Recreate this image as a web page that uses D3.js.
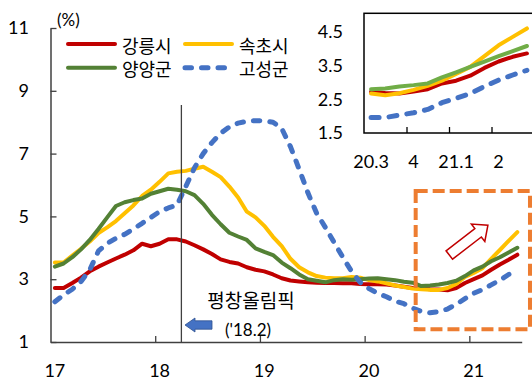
<!DOCTYPE html>
<html>
<head>
<meta charset="utf-8">
<script src="https://cdn.jsdelivr.net/npm/d3@7"></script>
<style>
  html, body { margin: 0; padding: 0; background: #fff; }
  svg { display: block; font-family: Lato, "Noto Sans CJK KR", sans-serif; }
  .kr { font-family: "Noto Sans CJK KR", sans-serif; }
</style>
</head>
<body>
<svg id="chart" width="532" height="380"></svg>
<script>
// Monthly series, Jan 2017 – Jun 2021 (%)
const yearLabels = ["17", "18", "19", "20", "21"];
const seriesNames = ["강릉시", "속초시", "양양군", "고성군"];

const gangneung = [
  2.72, 2.72, 2.88, 3.05, 3.25, 3.40, 3.53, 3.66, 3.78, 3.92, 4.13, 4.05,
  4.13, 4.27, 4.27, 4.20, 4.08, 3.95, 3.80, 3.63, 3.55, 3.50, 3.38, 3.30,
  3.25, 3.15, 3.03, 2.96, 2.93, 2.90, 2.89, 2.88, 2.88, 2.87, 2.87, 2.85,
  2.84, 2.84, 2.83, 2.80, 2.76, 2.72, 2.70, 2.68, 2.67, 2.65, 2.72, 2.88,
  3.00, 3.12, 3.30, 3.47, 3.62, 3.78
];
const sokcho = [
  3.53, 3.53, 3.75, 3.97, 4.20, 4.47, 4.65, 4.85, 5.10, 5.35, 5.65, 5.85,
  6.10, 6.37, 6.42, 6.45, 6.52, 6.58, 6.42, 6.25, 5.95, 5.60, 5.15, 4.97,
  4.70, 4.35, 4.05, 3.65, 3.38, 3.22, 3.10, 3.05, 3.03, 3.03, 3.07, 3.05,
  2.97, 2.93, 2.87, 2.80, 2.75, 2.70, 2.68, 2.66, 2.66, 2.72, 2.85, 3.07,
  3.20, 3.35, 3.65, 3.93, 4.22, 4.50
];
const yangyang = [
  3.40, 3.50, 3.70, 3.95, 4.25, 4.60, 4.97, 5.33, 5.45, 5.52, 5.57, 5.72,
  5.80, 5.88, 5.85, 5.80, 5.68, 5.40, 5.05, 4.75, 4.48, 4.36, 4.25, 3.98,
  3.87, 3.77, 3.53, 3.35, 3.15, 3.00, 2.95, 2.90, 2.97, 3.00, 2.98, 3.00,
  3.02, 3.03, 3.00, 2.97, 2.92, 2.89, 2.78, 2.80, 2.83, 2.88, 2.95, 3.10,
  3.28, 3.40, 3.57, 3.70, 3.85, 4.00
];
const goseong = [
  2.28, 2.50, 2.68, 2.93, 3.30, 3.90, 4.14, 4.30, 4.43, 4.60, 4.78, 4.97,
  5.15, 5.27, 5.36, 5.95, 6.55, 7.00, 7.35, 7.65, 7.85, 7.97, 8.03, 8.05,
  8.04, 8.00, 7.80, 7.22, 6.50, 5.75, 5.10, 4.65, 4.17, 3.70, 3.25, 2.90,
  2.70, 2.55, 2.44, 2.30, 2.22, 2.08, 1.97, 1.93, 1.97, 2.05, 2.20, 2.38,
  2.55, 2.67, 2.82, 2.97, 3.15, 3.32
];

// Inset: Jul 2020 – Jun 2021, quarterly labels
const insetLabels = ["20.3", "4", "21.1", "2"];
const insetGangneung = [2.72, 2.69, 2.67, 2.73, 2.80, 2.97, 3.05, 3.20, 3.43, 3.62, 3.76, 3.86];
const insetSokcho    = [2.67, 2.62, 2.68, 2.78, 2.90, 3.05, 3.25, 3.46, 3.78, 4.10, 4.35, 4.60];
const insetYangyang  = [2.80, 2.82, 2.88, 2.92, 2.97, 3.15, 3.30, 3.46, 3.62, 3.78, 3.93, 4.08];
const insetGoseong   = [1.96, 1.96, 2.03, 2.10, 2.20, 2.40, 2.53, 2.67, 2.88, 3.07, 3.22, 3.36];

const mainColors  = ["#C00000", "#FFC000", "#538135", "#4472C4"];
const insetColors = ["#C00000", "#FFC000", "#70AD47", "#4472C4"];

// Olympic marker (month index) and highlighted recent period
const olympicAt = 15;
const highlight = { from: 41.85, to: 54.95, low: 1.41, high: 5.81 };

const svg = d3.select("#chart");
const axisColor = "#404040";

// ---------- main chart ----------
const xMain = d3.scaleLinear().domain([0, 54]).range([50.5, 521.7]);
const yMain = d3.scaleLinear().domain([1, 11]).range([342, 28]);

const yAxis = d3.axisLeft(yMain).tickValues([1, 3, 5, 7, 9, 11])
  .tickSizeInner(-6).tickSizeOuter(0).tickPadding(21.5);
const gy = svg.append("g").attr("transform", `translate(${xMain(0)},0)`).call(yAxis);
gy.selectAll("text").attr("font-size", 18).attr("fill", "#000").attr("font-family", "Lato");

const xAxis = d3.axisBottom(xMain).tickValues([12, 24, 36, 48])
  .tickSizeInner(-6).tickSizeOuter(0).tickFormat("");
const gx = svg.append("g").attr("transform", `translate(0,${yMain(1)})`).call(xAxis);

[gx, gy].forEach(g => {
  g.select(".domain").attr("stroke", axisColor).attr("stroke-width", 1.5);
  g.selectAll(".tick line").attr("stroke", axisColor).attr("stroke-width", 1.3);
});

svg.append("g").selectAll("text").data(yearLabels).join("text")
  .attr("x", (d, i) => xMain(i * 12 + 0.5))
  .attr("y", yMain(1) + 35)
  .attr("text-anchor", "middle")
  .attr("font-size", 18)
  .attr("fill", "#000")
  .text(d => d);

svg.append("text").attr("x", 57).attr("y", 25.5)
  .attr("font-size", 17).attr("fill", "#000").text("(%)");

const mainLine = d3.line().x((d, i) => xMain(i + 0.5)).y(d => yMain(d));
const mainSeries = [gangneung, sokcho, yangyang, goseong];

svg.append("g").selectAll("path").data(mainSeries).join("path")
  .attr("d", mainLine)
  .attr("fill", "none")
  .attr("stroke", (d, i) => mainColors[i])
  .attr("stroke-width", (d, i) => i === 3 ? 5 : 4)
  .attr("stroke-linejoin", "round")
  .attr("stroke-linecap", "round")
  .attr("stroke-dasharray", (d, i) => i === 3 ? "6.5,10" : null);

// Olympic marker line and label
svg.append("line")
  .attr("x1", xMain(olympicAt)).attr("x2", xMain(olympicAt))
  .attr("y1", 105).attr("y2", yMain(1))
  .attr("stroke", axisColor).attr("stroke-width", 1.3);

svg.append("text").attr("class", "kr")
  .attr("x", 251).attr("y", 308).attr("text-anchor", "middle")
  .attr("font-size", 19).attr("fill", "#000").text("평창올림픽");
svg.append("text")
  .attr("x", 248).attr("y", 336).attr("text-anchor", "middle")
  .attr("font-size", 17).attr("fill", "#000").text("('18.2)");

svg.append("path")
  .attr("d", "M185,325 L195,318 L195,320.8 L212,320.8 L212,329.2 L195,329.2 L195,332 Z")
  .attr("fill", "#4472C4").attr("stroke", "#2F528F").attr("stroke-width", 0.8);

// Highlight box and rising arrow
svg.append("rect")
  .attr("x", xMain(highlight.from)).attr("y", yMain(highlight.high))
  .attr("width", xMain(highlight.to) - xMain(highlight.from))
  .attr("height", yMain(highlight.low) - yMain(highlight.high))
  .attr("fill", "none").attr("stroke", "#ED7D31")
  .attr("stroke-width", 4).attr("stroke-dasharray", "12,5");

svg.append("path")
  .attr("transform", "translate(449.3,255) rotate(-37.7)")
  .attr("d", "M0,-5.3 L36.4,-5.3 L36.4,-11 L48.8,0 L36.4,11 L36.4,5.3 L0,5.3 Z")
  .attr("fill", "#fff").attr("stroke", "#C00000").attr("stroke-width", 1.5)
  .attr("stroke-linejoin", "miter");

// Legend
const legendPos = [
  { x: 68, y: 44 }, { x: 185, y: 44 },
  { x: 68, y: 67.7 }, { x: 185, y: 67.7 }
];
const lg = svg.append("g").selectAll("g").data(seriesNames).join("g");
lg.append("line")
  .attr("x1", (d, i) => legendPos[i].x).attr("x2", (d, i) => legendPos[i].x + 47)
  .attr("y1", (d, i) => legendPos[i].y).attr("y2", (d, i) => legendPos[i].y)
  .attr("stroke", (d, i) => mainColors[i])
  .attr("stroke-width", (d, i) => i === 3 ? 5 : 4)
  .attr("stroke-linecap", "round")
  .attr("stroke-dasharray", (d, i) => i === 3 ? "6.5,10" : null);
lg.append("text").attr("class", "kr")
  .attr("x", (d, i) => legendPos[i].x + 54)
  .attr("y", (d, i) => legendPos[i].y + 8.5)
  .attr("font-size", 18).attr("fill", "#000")
  .text(d => d);

// ---------- inset chart ----------
const xIn = d3.scaleLinear().domain([0, 12]).range([364, 534]);
const yIn = d3.scaleLinear().domain([1.5, 5.05]).range([133, 13.3]);

svg.append("rect")
  .attr("x", xIn(0)).attr("y", yIn(5.05))
  .attr("width", xIn(12) - xIn(0)).attr("height", yIn(1.5) - yIn(5.05))
  .attr("fill", "#fff").attr("stroke", "#000").attr("stroke-width", 1.5);

const yInAxis = d3.axisLeft(yIn).tickValues([1.5, 2.5, 3.5, 4.5])
  .tickSize(0).tickPadding(21).tickFormat(d3.format(".1f"));
const giy = svg.append("g").attr("transform", `translate(${xIn(0)},0)`).call(yInAxis);
giy.select(".domain").remove();
giy.selectAll("text").attr("font-size", 18).attr("fill", "#000").attr("font-family", "Lato");

const xInAxis = d3.axisBottom(xIn).tickValues([3, 6, 9])
  .tickSizeInner(-6).tickSizeOuter(0).tickFormat("");
const gix = svg.append("g").attr("transform", `translate(0,${yIn(1.5)})`).call(xInAxis);
gix.select(".domain").remove();
gix.selectAll(".tick line").attr("stroke", "#000").attr("stroke-width", 1.3);

svg.append("g").selectAll("text").data(insetLabels).join("text")
  .attr("x", (d, i) => xIn(i * 3 + 0.5))
  .attr("y", 168)
  .attr("text-anchor", "middle")
  .attr("font-size", 18).attr("fill", "#000")
  .text(d => d);

const inLine = d3.line().x((d, i) => xIn(i + 0.5)).y(d => yIn(d));
const insetSeries = [insetGangneung, insetSokcho, insetYangyang, insetGoseong];
svg.append("g").selectAll("path").data(insetSeries).join("path")
  .attr("d", inLine)
  .attr("fill", "none")
  .attr("stroke", (d, i) => insetColors[i])
  .attr("stroke-width", (d, i) => i === 3 ? 5 : 4)
  .attr("stroke-linejoin", "round")
  .attr("stroke-linecap", "round")
  .attr("stroke-dasharray", (d, i) => i === 3 ? "8,10" : null);
</script>
</body>
</html>
